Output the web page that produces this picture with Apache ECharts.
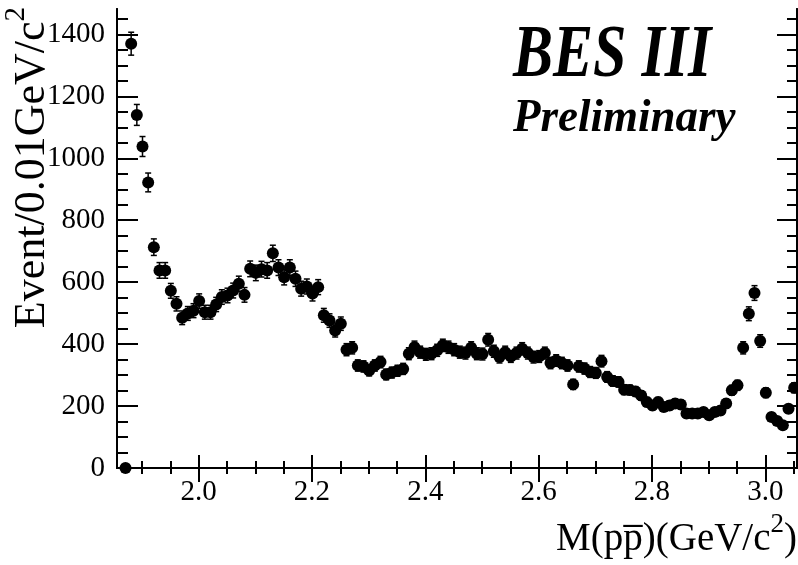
<!DOCTYPE html>
<html><head><meta charset="utf-8">
<script src="https://cdn.jsdelivr.net/npm/echarts@6/dist/echarts.min.js"></script>
<style>html,body{margin:0;padding:0;background:#fff}#c{width:798px;height:565px}</style>
</head><body><div id="c"></div>
<script>
// bin centres of M(p pbar) in GeV/c^2 (0.01 GeV bins)
const massBins = [1.871,1.881,1.891,1.901,1.911,1.921,1.931,1.941,1.951,1.961,
1.971,1.981,1.991,2.001,2.011,2.021,2.031,2.041,2.051,2.061,
2.071,2.081,2.091,2.101,2.111,2.121,2.131,2.141,2.151,2.161,
2.171,2.181,2.191,2.201,2.211,2.221,2.231,2.241,2.251,2.261,
2.271,2.281,2.291,2.301,2.311,2.321,2.331,2.341,2.351,2.361,
2.371,2.381,2.391,2.401,2.411,2.421,2.431,2.441,2.451,2.461,
2.471,2.481,2.491,2.501,2.511,2.521,2.531,2.541,2.551,2.561,
2.571,2.581,2.591,2.601,2.611,2.621,2.631,2.641,2.651,2.661,
2.671,2.681,2.691,2.701,2.711,2.721,2.731,2.741,2.751,2.761,
2.771,2.781,2.791,2.801,2.811,2.821,2.831,2.841,2.851,2.861,
2.871,2.881,2.891,2.901,2.911,2.921,2.931,2.941,2.951,2.961,
2.971,2.981,2.991,3.001,3.011,3.021,3.031,3.041,3.051];
// events per bin
const events = [0,1370,1140,1038,922,713,638,638,572,530,
485,499,508,539,503,503,528,552,557,573,
595,559,643,630,642,638,693,647,616,647,
611,579,586,563,584,493,476,444,466,382,
388,331,328,315,331,342,302,308,314,320,
369,390,374,367,369,380,396,390,382,374,
371,388,369,368,414,377,358,374,360,371,
385,371,358,360,371,339,347,339,331,270,
328,321,310,307,345,294,281,278,253,252,
247,234,213,202,213,197,202,208,205,176,
176,176,181,170,181,186,208,251,267,388,
498,565,410,243,165,152,138,191,259];
// axis ticks
const xMajorTicks = [2.0,2.2,2.4,2.6,2.8,3.0];
const xMinorTicks = [1.9,1.95,2.0,2.05,2.1,2.15,2.2,2.25,2.3,2.35,2.4,2.45,2.5,2.55,2.6,2.65,2.7,2.75,2.8,2.85,2.9,2.95,3.0,3.05];
const yMajorTicks = [0,200,400,600,800,1000,1200,1400];
const yMinorTicks = [50,100,150,200,250,300,350,400,450,500,550,600,650,700,750,800,850,900,950,1000,1050,1100,1150,1200,1250,1300,1350,1400,1450];
const xMin = 1.856, xMax = 3.056, yMin = 0, yMax = 1482;

const FONT = 'Liberation Serif';
const black = '#000';
const points = massBins.map((m, i) => [m, events[i]]);

function xAx(pos, ticks, len, labels) {
  return {
    type: 'value', min: xMin, max: xMax, position: pos,
    axisLine: { show: true, lineStyle: { color: black, width: 2 } },
    axisTick: { show: true, inside: true, length: len, customValues: ticks, lineStyle: { color: black, width: 2 } },
    axisLabel: labels ? { show: true, customValues: ticks, formatter: v => v.toFixed(1), fontSize: 29, fontFamily: FONT, color: black, margin: 10 } : { show: false },
    splitLine: { show: false }
  };
}
function yAx(pos, ticks, len, labels) {
  return {
    type: 'value', min: yMin, max: yMax, position: pos,
    axisLine: { show: true, lineStyle: { color: black, width: 2 } },
    axisTick: { show: true, inside: true, length: len, customValues: ticks, lineStyle: { color: black, width: 2 } },
    axisLabel: labels ? { show: true, customValues: ticks, formatter: v => String(v), fontSize: 29, fontFamily: FONT, color: black, margin: 12 } : { show: false },
    splitLine: { show: false }
  };
}

const chart = echarts.init(document.getElementById('c'), null, { renderer: 'canvas' });
chart.setOption({
  animation: false,
  backgroundColor: '#fff',
  grid: { left: 117, right: 1, top: 9, bottom: 97, containLabel: false },
  xAxis: [xAx('bottom', xMajorTicks, 13, true), xAx('bottom', xMinorTicks, 7, false),
          xAx('top', xMajorTicks, 14, false), xAx('top', xMinorTicks, 6, false)],
  yAxis: [yAx('left', yMajorTicks, 21, true), yAx('left', yMinorTicks, 11, false),
          yAx('right', yMajorTicks, 20, false), yAx('right', yMinorTicks, 10, false)],
  series: [
    {
      type: 'custom', xAxisIndex: 0, yAxisIndex: 0, data: points, z: 3,
      renderItem: function (params, api) {
        const x = api.value(0), y = api.value(1), e = Math.sqrt(y);
        const top = api.coord([x, y + e]), bot = api.coord([x, y - e]);
        const cw = 3, st = { stroke: black, lineWidth: 1.5 };
        return { type: 'group', children: [
          { type: 'line', shape: { x1: top[0], y1: top[1], x2: bot[0], y2: bot[1] }, style: st },
          { type: 'line', shape: { x1: top[0] - cw, y1: top[1], x2: top[0] + cw, y2: top[1] }, style: st },
          { type: 'line', shape: { x1: bot[0] - cw, y1: bot[1], x2: bot[0] + cw, y2: bot[1] }, style: st }
        ]};
      }
    },
    {
      type: 'scatter', xAxisIndex: 0, yAxisIndex: 0, data: points, z: 4,
      symbol: 'circle', symbolSize: 12, itemStyle: { color: black, opacity: 1 },
      emphasis: { disabled: true }
    }
  ],
  graphic: [
    { type: 'text', x: 513, y: 57, scaleY: 1.25, style: { text: 'BES III', font: 'italic bold 60px "Liberation Serif"', fill: black, align: 'left', verticalAlign: 'middle' } },
    { type: 'text', x: 513, y: 119, scaleY: 1.05, style: { text: 'Preliminary', font: 'italic bold 45px "Liberation Serif"', fill: black, align: 'left', verticalAlign: 'middle' } },
    // x axis title
    { type: 'text', x: 770.5, y: 540, style: { text: 'M(pp\u0305)(GeV/c', font: '39px "Liberation Serif"', fill: black, align: 'right', verticalAlign: 'middle' } },
    { type: 'text', x: 784, y: 525, style: { text: '2', font: '27px "Liberation Serif"', fill: black, align: 'right', verticalAlign: 'middle' } },
    { type: 'text', x: 797, y: 540, style: { text: ')', font: '39px "Liberation Serif"', fill: black, align: 'right', verticalAlign: 'middle' } },
    // y axis title (rotated)
    { type: 'group', x: 47, y: 7, rotation: Math.PI / 2, children: [
      { type: 'text', x: -14.5, y: -14.7, style: { text: 'Event/0.01GeV/c', font: '44px "Liberation Serif"', fill: black, align: 'right', verticalAlign: 'middle' } },
      { type: 'text', x: 0, y: -30.5, style: { text: '2', font: '29px "Liberation Serif"', fill: black, align: 'right', verticalAlign: 'middle' } }
    ]}
  ]
});
</script></body></html>
